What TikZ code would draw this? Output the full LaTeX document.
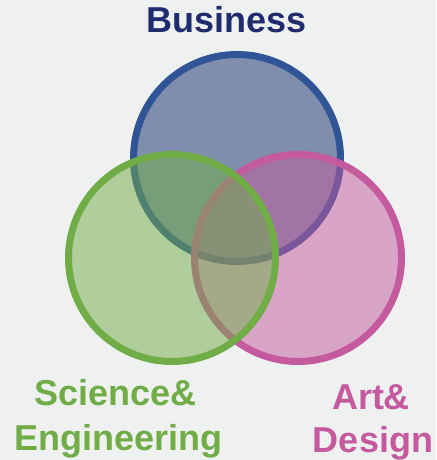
\documentclass[tikz,border=0pt]{standalone}
\usepackage{fontspec}
\setmainfont{Liberation Sans}
\definecolor{bgc}{RGB}{239,241,241}
\definecolor{busline}{RGB}{47,85,151}
\definecolor{busfill}{RGB}{16,45,105}
\definecolor{bustext}{RGB}{31,45,110}
\definecolor{sciline}{RGB}{112,173,71}
\definecolor{artline}{RGB}{197,90,159}
\begin{document}
\begin{tikzpicture}[x=1pt,y=-1pt,
  ring/.style={line width=7pt,fill opacity=0.5},
  lbl/.style={anchor=base,inner sep=0pt,font=\fontsize{36}{36}\selectfont\bfseries}]
\useasboundingbox (0,0) rectangle (436,460);
\fill[bgc] (0,0) rectangle (436,460);
\coordinate (cb) at (237,158);
\coordinate (cs) at (172,258);
\coordinate (ca) at (298,258);
\draw[ring,draw=busline,fill=busfill] (cb) circle[radius=103.5];
\draw[ring,draw=artline,fill=artline] (ca) circle[radius=103.5];
\draw[ring,draw=sciline,fill=sciline] (cs) circle[radius=103.5];
\node[lbl,text=bustext] (business) at (226.5,33) {Business};
\node[lbl,text=sciline] (science) at (115.5,405) {Science\&};
\node[lbl,text=sciline] (engineering) at (118.5,450) {Engineering};
\node[lbl,text=artline] (art) at (371,409) {Art\&};
\node[lbl,text=artline] (design) at (373,452) {Design};
\end{tikzpicture}
\end{document}
